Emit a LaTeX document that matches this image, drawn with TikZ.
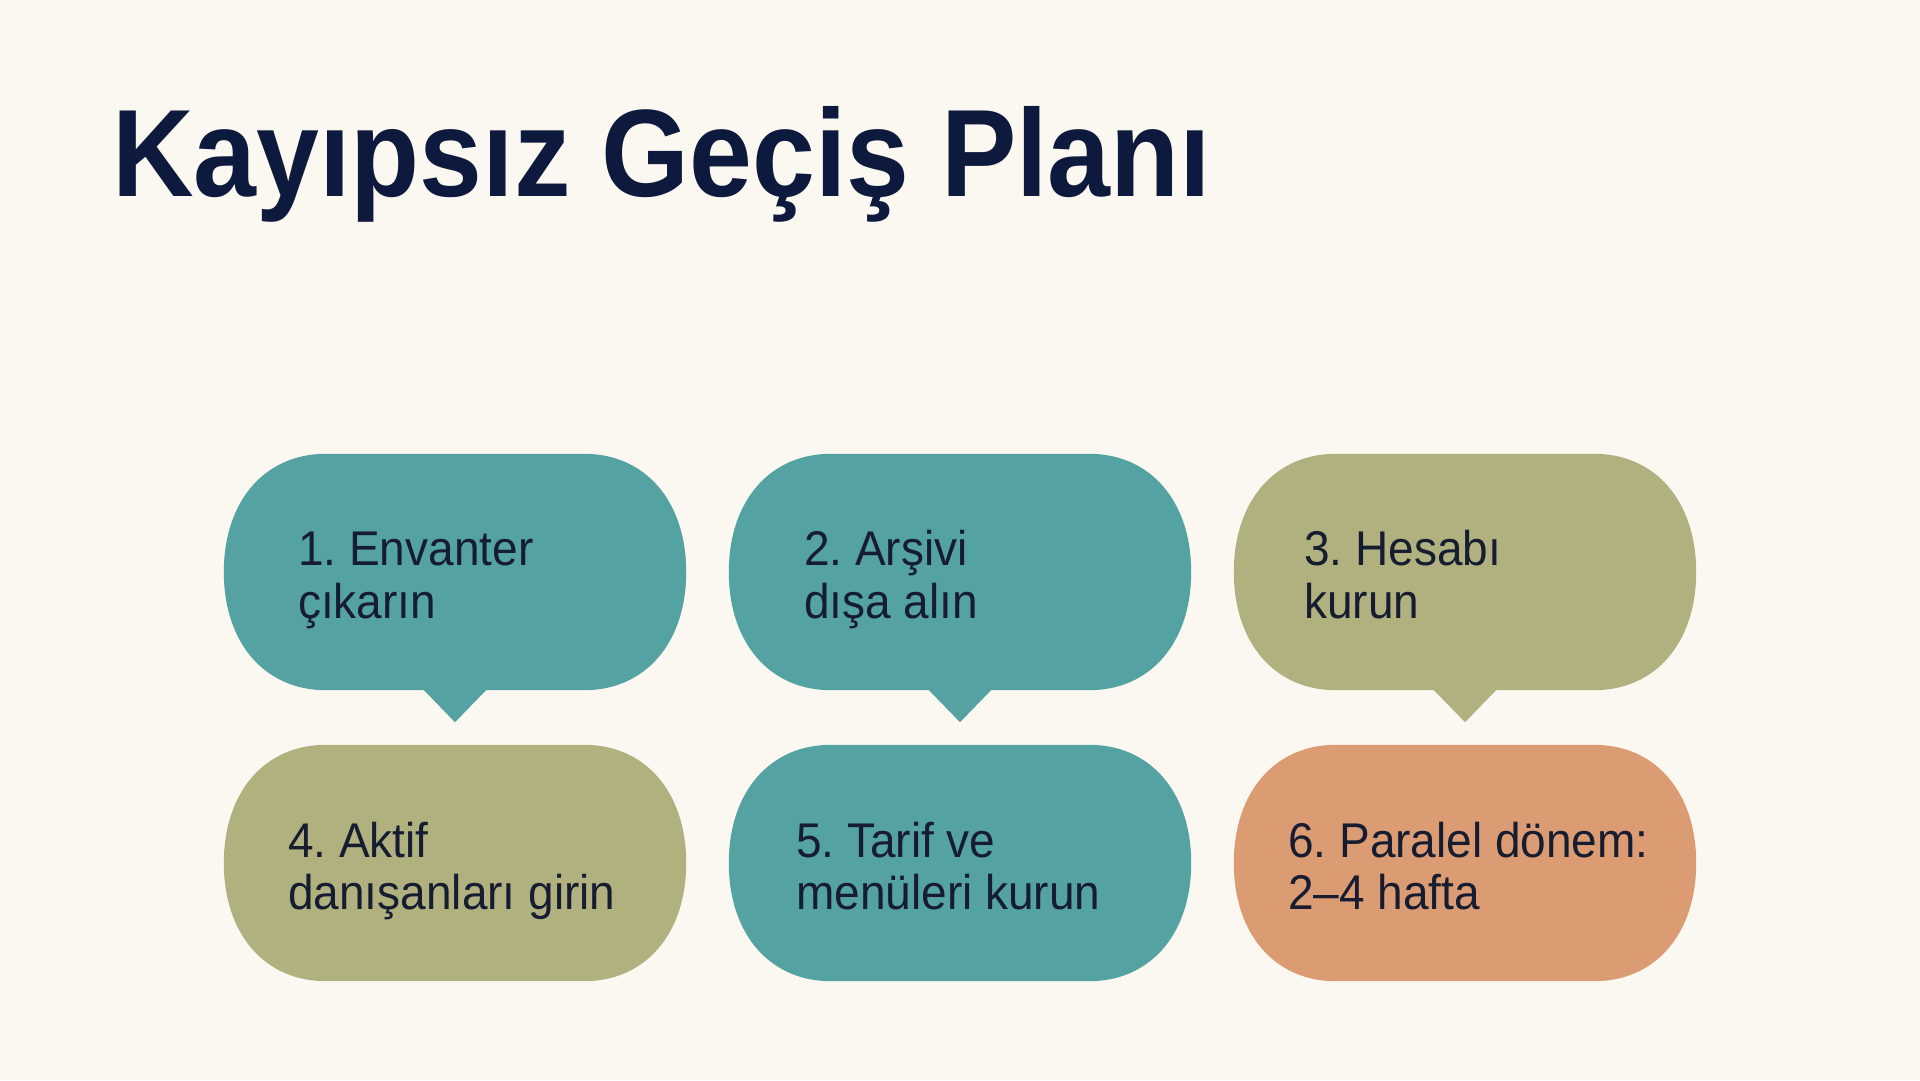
\documentclass[tikz,border=0pt]{standalone}
\usepackage{fontspec}
\setmainfont{Liberation Sans}
\frenchspacing
\definecolor{bgc}{HTML}{FAF8F0}
\definecolor{titlec}{HTML}{0E1A3D}
\definecolor{txtc}{HTML}{161D30}
\definecolor{tealc}{HTML}{55A2A2}
\definecolor{olivec}{HTML}{B1B17F}
\definecolor{orangec}{HTML}{DB9B73}
\newcommand{\bubblefill}[2]{%
  \fill[#2] ([xshift=102pt]#1.north west) -- ([xshift=-102pt]#1.north east)
    .. controls ([xshift=-41pt]#1.north east) and ([yshift=71pt]#1.east) .. (#1.east)
    .. controls ([yshift=-71pt]#1.east) and ([xshift=-41pt]#1.south east) .. ([xshift=-102pt]#1.south east)
    -- ([xshift=102pt]#1.south west)
    .. controls ([xshift=41pt]#1.south west) and ([yshift=-71pt]#1.west) .. (#1.west)
    .. controls ([yshift=71pt]#1.west) and ([xshift=41pt]#1.north west) .. ([xshift=102pt]#1.north west) -- cycle;}
\newcommand{\pointerfill}[2]{%
  \fill[#2] ([xshift=-33pt,yshift=2pt]#1.south) -- ([yshift=-32pt]#1.south) -- ([xshift=33pt,yshift=2pt]#1.south) -- cycle;}
\begin{document}
\begin{tikzpicture}[x=1pt,y=-1pt,
  bubble/.style={rectangle, minimum width=462pt, minimum height=236pt, inner sep=0pt},
  line/.style={anchor=base west, inner sep=0pt, text=txtc, font=\fontsize{46}{53}\selectfont}]
\useasboundingbox (0,0) rectangle (1920,1080);
\fill[bgc] (0,0) rectangle (1920,1080);
\node[anchor=base west, inner sep=0pt, text=titlec, font=\fontsize{113}{120}\selectfont\bfseries] (title) at (112,196) {\scalebox{1}[1.1]{Kayıpsız Geçiş Planı}};
% bubbles
\node[bubble] (b1) at (455,572) {};
\node[bubble] (b2) at (960,572) {};
\node[bubble] (b3) at (1465,572) {};
\node[bubble] (b4) at (455,863) {};
\node[bubble] (b5) at (960,863) {};
\node[bubble] (b6) at (1465,863) {};
\bubblefill{b1}{tealc}
\bubblefill{b2}{tealc}
\bubblefill{b3}{olivec}
\bubblefill{b4}{olivec}
\bubblefill{b5}{tealc}
\bubblefill{b6}{orangec}
% pointers
\pointerfill{b1}{tealc}
\pointerfill{b2}{tealc}
\pointerfill{b3}{olivec}
% texts
\node[line] (t1a) at (298,565) {\scalebox{1}[1.06]{1. Envanter}};
\node[line] (t1b) at (298,618) {\scalebox{1}[1.06]{çıkarın}};
\node[line] (t2a) at (804,565) {\scalebox{1}[1.06]{2. Arşivi}};
\node[line] (t2b) at (804,618) {\scalebox{1}[1.06]{dışa alın}};
\node[line] (t3a) at (1304,565) {\scalebox{1}[1.06]{3. Hesabı}};
\node[line] (t3b) at (1304,618) {\scalebox{1}[1.06]{kurun}};
\node[line] (t4a) at (288,857) {\scalebox{1}[1.06]{4. Aktif}};
\node[line] (t4b) at (288,909) {\scalebox{1}[1.06]{danışanları girin}};
\node[line] (t5a) at (796,857) {\scalebox{1}[1.06]{5. Tarif ve}};
\node[line] (t5b) at (796,909) {\scalebox{1}[1.06]{menüleri kurun}};
\node[line] (t6a) at (1288,857) {\scalebox{1}[1.06]{6. Paralel dönem:}};
\node[line] (t6b) at (1288,909) {\scalebox{1}[1.06]{2–4 hafta}};
\end{tikzpicture}
\end{document}
